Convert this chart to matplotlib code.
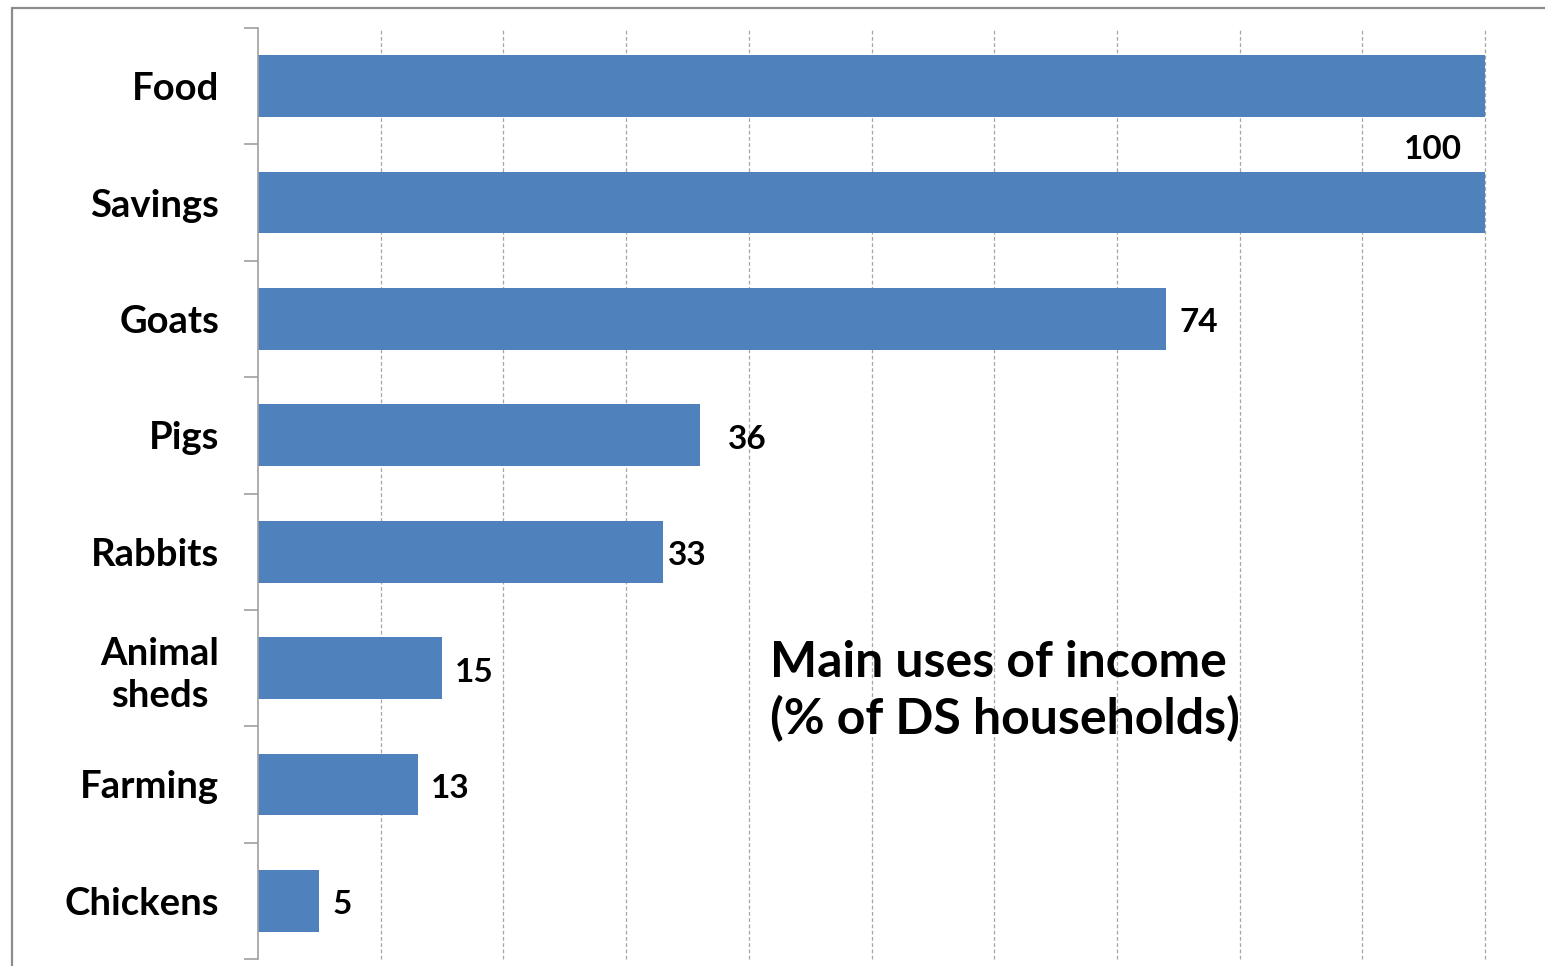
import numpy as np
import matplotlib
matplotlib.use("Agg")
import matplotlib.pyplot as plt
from matplotlib.patches import Rectangle

categories = ["Food", "Savings", "Goats", "Pigs", "Rabbits", "Animal\nsheds", "Farming", "Chickens"]
values = [100, 100, 74, 36, 33, 15, 13, 5]
# which bars carry a value label (Food's label sits hidden in the original)
show_label = [False, True, True, True, True, True, True, True]
title_text = "Main uses of income\n(% of DS households)"

BAR = "#4F81BD"
GRID = "#A6A6A6"
AXIS = "#A0A0A0"
FONT = ["Lato", "DejaVu Sans"]

plt.rcParams["font.family"] = FONT
plt.rcParams["font.weight"] = "bold"

W, H = 1545, 966
fig = plt.figure(figsize=(W / 100, H / 100), dpi=100)
ax = fig.add_axes([258 / W, 1 - 959 / H, (1485 - 258) / W, (959 - 28) / H])

y = np.arange(len(categories))
ax.barh(y, values, height=0.53, color=BAR, edgecolor="none", zorder=2)

ax.set_xlim(0, 100)
ax.set_ylim(len(categories) - 0.5, -0.5)

ax.set_xticks(np.arange(10, 101, 10))
ax.tick_params(axis="x", length=0, labelbottom=False)
ax.grid(axis="x", color=GRID, linestyle=(0, (3, 2)), linewidth=0.9, zorder=0)
for gl in ax.get_xgridlines():
    gl.set_clip_on(False)

ax.set_yticks(y)
ax.set_yticklabels(categories, fontsize=27.5, fontweight="bold", linespacing=1.3)
ax.tick_params(axis="y", length=0, pad=28)
ax.set_yticks(np.arange(-0.5, len(categories)), minor=True)
ax.tick_params(axis="y", which="minor", length=10, width=1.2, color=AXIS)
for lbl in ax.get_yticklabels():
    lbl.set_horizontalalignment("right")
    lbl.set_multialignment("center")

for s in ["top", "right", "bottom"]:
    ax.spines[s].set_visible(False)
ax.spines["left"].set_color(AXIS)
ax.spines["left"].set_linewidth(1.2)

# value labels: pixel offsets from the bar end, as placed in the original
offsets = {1: (-23, 53), 2: (14, -4), 3: (28, -4), 4: (5, -4), 5: (13, -4), 6: (13, -4), 7: (13, -4)}
for i, (v, show) in enumerate(zip(values, show_label)):
    if not show:
        continue
    dx, dy = offsets.get(i, (10, 0))
    ha = "right" if v >= 100 else "left"
    ax.annotate(str(v), xy=(v, i), xytext=(dx * 0.72, dy * 0.72), textcoords="offset points",
                ha=ha, va="center", fontsize=24, fontweight="bold", color="black")

ax.text(770 / W, 1 - 691 / H, title_text, transform=fig.transFigure,
        ha="left", va="center", fontsize=36, fontweight="bold", linespacing=1.27)

border = Rectangle((12 / W, -0.05), 1.2, 1 - 8 / H + 0.05, transform=fig.transFigure,
                   fill=False, edgecolor="#8C8C8C", linewidth=1.6)
fig.patches.append(border)

fig.savefig("out.png", dpi=100)
